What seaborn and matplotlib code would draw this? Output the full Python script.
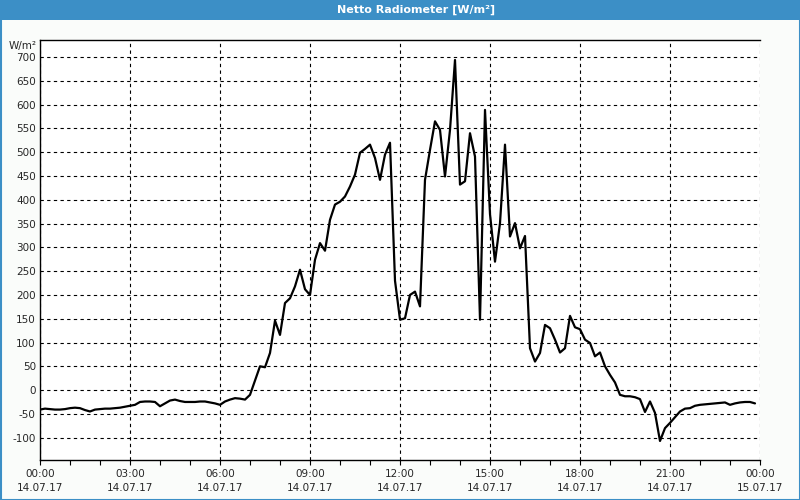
import numpy as np
import pandas as pd
import matplotlib
matplotlib.use("Agg")
import matplotlib.pyplot as plt
from matplotlib.patches import Rectangle
import seaborn as sns

# ---- data (10-minute samples, 14.07.17 00:00 .. 23:50) ----
values = [
    -41, -39, -40, -41, -41, -40, -38, -37, -38, -42,
    -45, -41, -40, -39, -39, -38, -37, -35, -33, -31,
    -25, -24, -24, -25, -34, -28, -22, -20, -23, -25,
    -25, -25, -24, -24, -26, -28, -31, -24, -20, -17,
    -18, -20, -10, 20, 50, 48, 78, 146, 116, 183,
    193, 218, 253, 212, 200, 274, 309, 293, 358, 390,
    396, 407, 428, 453, 499, 507, 516, 488, 442, 495,
    520, 230, 148, 151, 200, 207, 176, 442, 505, 565,
    547, 449, 547, 694, 432, 439, 540, 491, 148, 589,
    370, 270, 351, 516, 323, 351, 298, 324, 88, 60,
    78, 137, 130, 106, 79, 88, 156, 132, 128, 106,
    99, 71, 79, 50, 32, 16, -10, -13, -13, -15,
    -19, -46, -24, -48, -107, -80, -69, -57, -45, -39,
    -38, -33, -31, -30, -29, -28, -27, -26, -31, -28,
    -26, -25, -25, -28,
]
hours = [i / 6 for i in range(len(values))]

x_ticks = [0, 3, 6, 9, 12, 15, 18, 21, 24]
x_labels = [
    "00:00\n14.07.17", "03:00\n14.07.17", "06:00\n14.07.17",
    "09:00\n14.07.17", "12:00\n14.07.17", "15:00\n14.07.17",
    "18:00\n14.07.17", "21:00\n14.07.17", "00:00\n15.07.17",
]
y_ticks = list(range(-100, 701, 50))

title = "Netto Radiometer [W/m²]"
unit = "W/m²"

df = pd.DataFrame({"hour": hours, "value": values})

sns.set_style("white")
plt.rcParams["font.family"] = ["DejaVu Sans"]

BLUE = "#3c8fc6"
BG = "#fafcfa"

fig = plt.figure(figsize=(8, 5), dpi=100, facecolor=BG)
ax = fig.add_axes([40 / 800, 1 - 460 / 500, 720 / 800, 420 / 500])
ax.set_facecolor("white")

sns.lineplot(data=df, x="hour", y="value", ax=ax, color="black",
             linewidth=1.6, legend=False)

ax.set_xlim(0, 24)
ax.set_ylim(-147, 736)
ax.set_xticks(x_ticks)
ax.set_xticklabels(x_labels, fontsize=7.5, linespacing=1.55)
ax.set_xticks(range(0, 25), minor=True)
ax.set_yticks(y_ticks)
ax.set_yticklabels([str(v) for v in y_ticks], fontsize=7.5)
ax.set_xlabel("")
ax.set_ylabel("")

ax.tick_params(axis="x", which="both", direction="out", length=3.5,
               width=0.8, color="black", pad=3, bottom=True)
ax.tick_params(axis="y", length=0, pad=3)

ax.grid(True, which="major", color="black", linestyle=(0, (3, 3)),
        linewidth=0.8)
ax.set_axisbelow(True)

for side in ["left", "top", "bottom"]:
    ax.spines[side].set_visible(True)
    ax.spines[side].set_color("black")
    ax.spines[side].set_linewidth(1.0)
ax.spines["right"].set_visible(False)

# title bar
fig.patches.append(Rectangle((0, 1 - 20 / 500), 1, 20 / 500,
                             transform=fig.transFigure, facecolor=BLUE,
                             edgecolor="none", zorder=0))
# border
fig.patches.append(Rectangle((0.5 / 800, 0.5 / 500), 799 / 800, 499 / 500,
                             transform=fig.transFigure, facecolor="none",
                             edgecolor=BLUE, linewidth=1.5, zorder=1))
fig.text(416 / 800, 1 - 10 / 500, title, color="white", fontsize=8,
         fontweight="bold", ha="center", va="center")
fig.text(37 / 800, 1 - 46 / 500, unit, fontsize=7.5, ha="right",
         va="center")

fig.savefig("out.png", dpi=100, facecolor=BG)
